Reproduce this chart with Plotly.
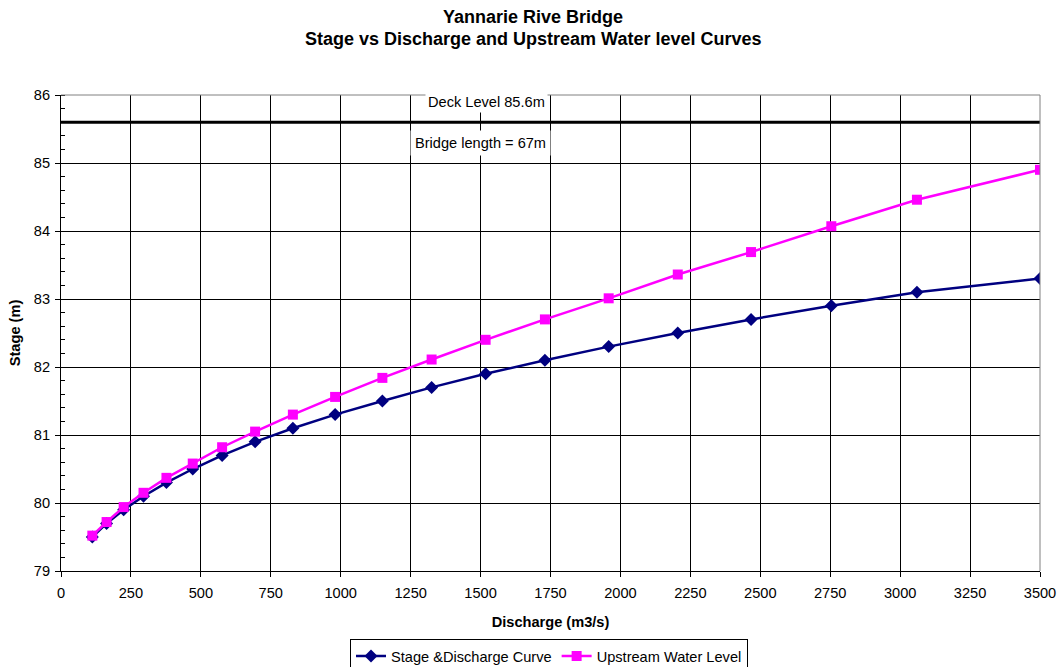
import plotly.graph_objects as go

# Discharge (m3/s) at each computed point
discharge = [112, 163, 224, 295, 377, 471, 576, 694, 829, 980,
             1149, 1325, 1518, 1730, 1958, 2205, 2467, 2754, 3060, 3500]
# Stage at the bridge (m)
stage = [79.5, 79.7, 79.9, 80.1, 80.3, 80.5, 80.7, 80.9, 81.1, 81.3,
         81.5, 81.7, 81.9, 82.1, 82.3, 82.5, 82.7, 82.9, 83.1, 83.3]
# Upstream water level (m)
upstream = [79.52, 79.72, 79.94, 80.15, 80.37, 80.58, 80.82, 81.05, 81.30, 81.56,
            81.84, 82.11, 82.40, 82.70, 83.01, 83.36, 83.69, 84.07, 84.46, 84.90]

deck_level = 85.6
x_ticks = list(range(0, 3501, 250))
y_ticks = list(range(79, 87))

font_family = "Liberation Sans, Arial, sans-serif"
fs = 14.6

fig = go.Figure()

# Deck level reference line
fig.add_trace(go.Scatter(
    x=[0, 3500], y=[deck_level, deck_level], mode="lines",
    line=dict(color="black", width=3), showlegend=False, hoverinfo="skip",
))

fig.add_trace(go.Scatter(
    x=discharge, y=stage, mode="lines+markers",
    name="Stage &Discharge Curve",
    line=dict(color="#000080", width=2.5),
    marker=dict(symbol="diamond", size=10, color="#000080"),
))
fig.add_trace(go.Scatter(
    x=discharge, y=upstream, mode="lines+markers",
    name="Upstream Water Level",
    line=dict(color="#FF00FF", width=2.5),
    marker=dict(symbol="square", size=10, color="#FF00FF"),
))

fig.add_annotation(x=1520, y=85.89, text="Deck Level 85.6m", showarrow=False,
                   bgcolor="white", font=dict(size=fs, color="black"), borderpad=2)
fig.add_annotation(x=1500, y=85.29, text="Bridge length = 67m", showarrow=False,
                   bgcolor="white", font=dict(size=fs, color="black"), borderpad=4)

# Two-line chart title, placed above the plot area
title_x = (533 - 61) / 979
fig.add_annotation(xref="paper", yref="paper", x=title_x, y=(571 - 17) / 476,
                   text="<b>Yannarie Rive Bridge</b>", showarrow=False,
                   font=dict(size=18, color="black"), yanchor="middle")
fig.add_annotation(xref="paper", yref="paper", x=title_x, y=(571 - 39) / 476,
                   text="<b>Stage vs Discharge and Upstream Water level Curves</b>",
                   showarrow=False, font=dict(size=18, color="black"),
                   yanchor="middle")

fig.update_layout(
    width=1062, height=667,
    margin=dict(l=61, r=22, t=95, b=96, autoexpand=False),
    paper_bgcolor="white", plot_bgcolor="white",
    font=dict(family=font_family, size=fs, color="black"),
    legend=dict(
        orientation="h", x=(549 - 61) / 979, xanchor="center",
        y=(571 - 639) / 476, yanchor="top",
        bordercolor="black", borderwidth=1, bgcolor="white",
        font=dict(size=fs), tracegroupgap=0,
    ),
    xaxis=dict(
        range=[0, 3500], tickvals=x_ticks, ticks="outside", ticklen=5,
        tickcolor="black", showline=True, linecolor="black", linewidth=1,
        mirror=False, showgrid=True, gridcolor="black", gridwidth=1,
        zeroline=False, tickfont=dict(size=fs), ticklabelstandoff=3,
        title=dict(text="<b>Discharge (m3/s)</b>", font=dict(size=fs), standoff=17),
    ),
    yaxis=dict(
        range=[79, 86], tickvals=y_ticks, ticks="outside", ticklen=5,
        tickcolor="black", showline=True, linecolor="black", linewidth=1,
        showgrid=True, gridcolor="black", gridwidth=1, zeroline=False,
        tickfont=dict(size=fs), ticklabelstandoff=2,
        minor=dict(dtick=0.2, ticks="inside", ticklen=4, tickcolor="black",
                   showgrid=False),
        title=dict(text="<b>Stage (m)</b>", font=dict(size=fs), standoff=9),
    ),
)

# Plot area frame on the top and right
fig.add_shape(type="line", xref="paper", yref="paper", x0=0, x1=1, y0=1, y1=1,
              line=dict(color="#808080", width=1))
fig.add_shape(type="line", xref="paper", yref="paper", x0=1, x1=1, y0=0, y1=1,
              line=dict(color="#808080", width=1))

fig.write_html("out.html")
